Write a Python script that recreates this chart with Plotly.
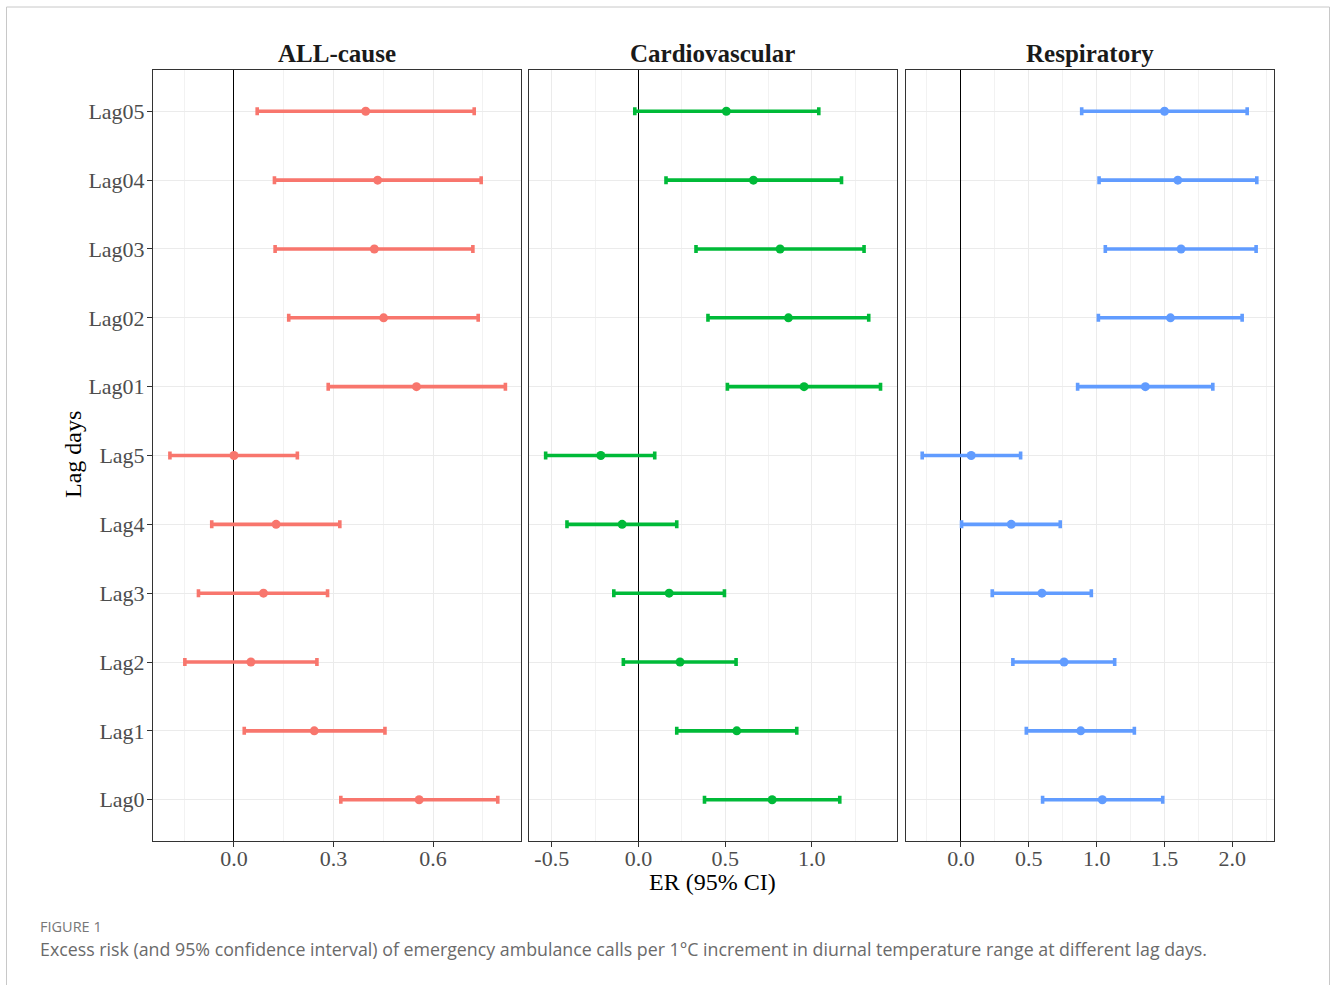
import plotly.graph_objects as go

# ---------------- data ----------------
lags = ["Lag0", "Lag1", "Lag2", "Lag3", "Lag4", "Lag5",
        "Lag01", "Lag02", "Lag03", "Lag04", "Lag05"]
panels = ["ALL-cause", "Cardiovascular", "Respiratory"]

all_er = [0.558, 0.242, 0.051, 0.089, 0.127, 0.000, 0.550, 0.451, 0.423, 0.433, 0.397]
all_lo = [0.322, 0.031, -0.148, -0.107, -0.067, -0.193, 0.284, 0.165, 0.124, 0.122, 0.070]
all_hi = [0.795, 0.455, 0.250, 0.282, 0.319, 0.191, 0.818, 0.736, 0.720, 0.745, 0.724]

cv_er = [0.771, 0.567, 0.240, 0.177, -0.094, -0.217, 0.955, 0.865, 0.817, 0.663, 0.507]
cv_lo = [0.381, 0.221, -0.087, -0.142, -0.412, -0.535, 0.513, 0.401, 0.332, 0.159, -0.021]
cv_hi = [1.161, 0.913, 0.563, 0.496, 0.221, 0.094, 1.396, 1.328, 1.301, 1.171, 1.040]

re_er = [1.042, 0.883, 0.760, 0.597, 0.371, 0.076, 1.359, 1.544, 1.622, 1.598, 1.500]
re_lo = [0.602, 0.482, 0.383, 0.231, 0.005, -0.285, 0.860, 1.013, 1.064, 1.018, 0.890]
re_hi = [1.487, 1.278, 1.133, 0.961, 0.732, 0.440, 1.856, 2.072, 2.175, 2.180, 2.109]

ticks_all = [0.0, 0.3, 0.6]
ticklabels_all = ["0.0", "0.3", "0.6"]
ticks_cv = [-0.5, 0.0, 0.5, 1.0]
ticklabels_cv = ["-0.5", "0.0", "0.5", "1.0"]
ticks_re = [0.0, 0.5, 1.0, 1.5, 2.0]
ticklabels_re = ["0.0", "0.5", "1.0", "1.5", "2.0"]

x_title = "ER (95% CI)"
y_title = "Lag days"
fig_label = "FIGURE 1"
caption = ("Excess risk (and 95% confidence interval) of emergency ambulance calls per 1°C "
           "increment in diurnal temperature range at different lag days.")

# ---------------- styling ----------------
W, H = 1330, 985
colors = ["#F8766D", "#00BA38", "#619CFF"]
serif = "Liberation Serif"
panel_px = [(153, 521), (529, 897), (905.5, 1273.5)]
top_px, bot_px = 70, 841
xranges = [(-0.244, 0.865), (-0.631, 1.491), (-0.408, 2.303)]
minor_dticks = [0.15, 0.25, 0.25]

series = [(all_er, all_lo, all_hi), (cv_er, cv_lo, cv_hi), (re_er, re_lo, re_hi)]
tick_sets = [(ticks_all, ticklabels_all), (ticks_cv, ticklabels_cv), (ticks_re, ticklabels_re)]

fig = go.Figure()
layout = dict(
    width=W, height=H,
    margin=dict(l=0, r=0, t=0, b=0),
    paper_bgcolor="white", plot_bgcolor="white",
    showlegend=False,
    font=dict(family=serif, color="#4D4D4D", size=22),
)

annotations = []
for i, (er, lo, hi) in enumerate(series):
    xa = "x" if i == 0 else f"x{i+1}"
    ya = "y" if i == 0 else f"y{i+1}"
    fig.add_trace(go.Scatter(
        x=er, y=lags, xaxis=xa, yaxis=ya, mode="markers",
        marker=dict(color=colors[i], size=9),
        error_x=dict(type="data", symmetric=False,
                     array=[h - e for h, e in zip(hi, er)],
                     arrayminus=[e - l for e, l in zip(er, lo)],
                     color=colors[i], thickness=3.6, width=4),
        hoverinfo="skip",
    ))
    x0, x1 = panel_px[i]
    tv, tt = tick_sets[i]
    layout["xaxis" if i == 0 else f"xaxis{i+1}"] = dict(
        domain=[x0 / W, x1 / W], anchor=ya, range=list(xranges[i]),
        tickmode="array", tickvals=tv, ticktext=tt,
        showgrid=True, gridcolor="#EBEBEB", gridwidth=1.1,
        minor=dict(tick0=0, dtick=minor_dticks[i], showgrid=True,
                   gridcolor="#F2F2F2", gridwidth=0.6, ticks=""),
        zeroline=True, zerolinecolor="#000000", zerolinewidth=1.2,
        showline=True, linecolor="#333333", linewidth=1, mirror=True,
        ticks="outside", ticklen=5, tickcolor="#333333", tickwidth=1,
        ticklabelstandoff=-7,
        tickfont=dict(family=serif, size=22, color="#4D4D4D"),
    )
    layout["yaxis" if i == 0 else f"yaxis{i+1}"] = dict(
        domain=[1 - bot_px / H, 1 - top_px / H], anchor=xa,
        type="category", categoryorder="array", categoryarray=lags,
        range=[-0.6, len(lags) - 0.4],
        showgrid=True, gridcolor="#EBEBEB", gridwidth=1.1,
        zeroline=False,
        showline=True, linecolor="#333333", linewidth=1, mirror=True,
        ticks="outside" if i == 0 else "", ticklen=5, tickcolor="#333333",
        showticklabels=(i == 0),
        ticklabelstandoff=-2,
        tickfont=dict(family=serif, size=22, color="#4D4D4D"),
    )
    annotations.append(dict(
        text=f"<b>{panels[i]}</b>", x=(x0 + x1) / 2 / W, y=1 - 53 / H,
        xref="paper", yref="paper", showarrow=False, xanchor="center", yanchor="middle",
        font=dict(family=serif, size=25, color="#1A1A1A"),
    ))

annotations += [
    dict(text=x_title, x=713 / W, y=1 - 882 / H, xref="paper", yref="paper",
         showarrow=False, xanchor="center", yanchor="middle",
         font=dict(family=serif, size=24, color="#000000")),
    dict(text=y_title, x=73 / W, y=1 - 455 / H, xref="paper", yref="paper",
         showarrow=False, xanchor="center", yanchor="middle", textangle=-90,
         font=dict(family=serif, size=24, color="#000000")),
    dict(text=fig_label, x=38 / W, y=1 - 926 / H, xref="paper", yref="paper",
         showarrow=False, xanchor="left", yanchor="middle",
         font=dict(family="Open Sans", size=14.5, color="#777777")),
    dict(text=caption, x=38 / W, y=1 - 949 / H, xref="paper", yref="paper",
         showarrow=False, xanchor="left", yanchor="middle",
         font=dict(family="Open Sans", size=17.8, color="#6A6A6A")),
]
layout["annotations"] = annotations
layout["shapes"] = [dict(type="rect", xref="paper", yref="paper",
                         x0=6.5 / W, x1=1329.5 / W, y0=-0.05, y1=1 - 7 / H,
                         line=dict(color="#C8C8C8", width=1), fillcolor="rgba(0,0,0,0)",
                         layer="below")]

fig.update_layout(**layout)
fig.write_html("out.html", config={"displayModeBar": False},
               post_script="document.body.style.margin='0';")
